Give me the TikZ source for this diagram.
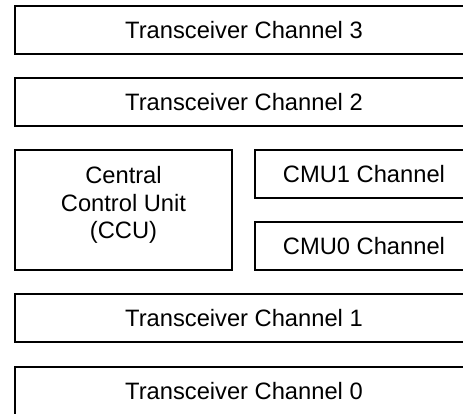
\documentclass[tikz,border=0pt]{standalone}
\usepackage{fontspec}
\setmainfont{Liberation Sans}
\usetikzlibrary{positioning}

\tikzset{
  blk/.style={draw,line width=1.5pt,rectangle,inner sep=0pt,
    font=\fontsize{23.7}{27.5}\selectfont,align=center},
  wideblk/.style={blk,minimum width=458pt,minimum height=48pt},
  halfblk/.style={blk,minimum width=218pt,minimum height=48pt}
}

\begin{document}
\begin{tikzpicture}[x=1pt,y=-1pt]
  \useasboundingbox (0,0) rectangle (463,413);
  \clip (0,0) rectangle (463,413);
  \node[wideblk] (tx3) at (244,30) {Transceiver Channel 3};
  \node[wideblk] (tx2) at (244,102) {Transceiver Channel 2};
  \node[blk,minimum width=217pt,minimum height=120pt] (ccu) at (123.5,210) {};
  \node[blk,draw=none] (ccutext) at ([yshift=5pt]ccu.center) {Central\\Control Unit\\(CCU)};
  \node[halfblk] (cmu1) at (364,174) {CMU1 Channel};
  \node[halfblk] (cmu0) at (364,246) {CMU0 Channel};
  \node[wideblk] (tx1) at (244,318) {Transceiver Channel 1};
  \node[wideblk] (tx0) at (244,391) {Transceiver Channel 0};
\end{tikzpicture}
\end{document}
